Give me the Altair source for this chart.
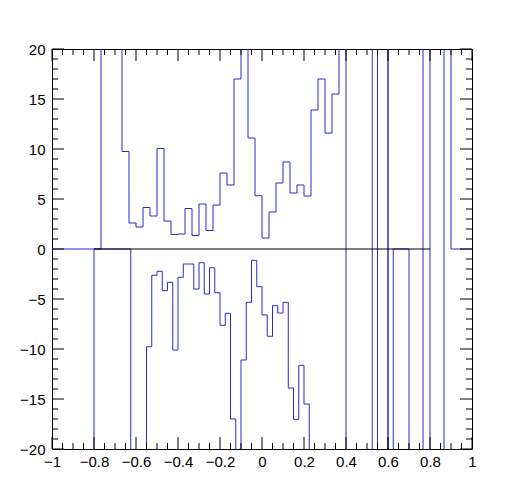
import altair as alt
import numpy as np
import pandas as pd

# Bin contents. Bins that run off the +-20 frame are marked +-30.
# Upper histogram: 60 bins on [-1, 1]
upper_values = [
    0, 0, 0, 0, 0, 0, 0,
    30, 30, 30,
    9.75, 2.6, 2.2, 4.15, 3.3, 10.05, 2.8, 1.45, 1.5, 4.05,
    1.35, 4.5, 1.85, 4.4, 7.6, 6.4, 17.0, 30, 11.1, 5.33,
    1.1, 3.7, 6.6, 8.7, 5.6, 6.4, 5.3, 13.9, 17.0, 11.6,
    15.5, 30, 30, 30, 30, 30, 30, 30,
    -30, -30, -30, -30, -30,
    30, -30, -30, 30,
    0, 0, 0,
]
upper_range = [-1.0, 1.0]

# Lower histogram: 60 bins on [-0.8, 0.7]
lower_values = [
    0, 0, 0, 0, 0, 0, 0,
    -30, -30, -30,
    -9.77, -2.63, -2.23, -4.17, -3.33, -10.1, -2.83, -1.5, -1.5, -4.0,
    -1.37, -4.5, -1.87, -4.37, -7.63, -6.43, -17.0, -30, -11.1, -5.33,
    -1.13, -3.77, -6.6, -8.73, -5.67, -6.4, -5.33, -13.9, -17.03, -11.63,
    -15.5, -30, -30, -30, -30, -30, -30, -30,
    30, 30, 30, 30, 30,
    -30, 30, 30, -30,
    0, 0, 0,
]
lower_range = [-0.8, 0.7]

zero_line = {"x": [-0.8], "x2": [0.8], "y": [0]}

x_labels = [-1, -0.8, -0.6, -0.4, -0.2, 0, 0.2, 0.4, 0.6, 0.8, 1]
y_labels = [-20, -15, -10, -5, 0, 5, 10, 15, 20]
x_minor = [round(-1 + 0.05 * i, 2) for i in range(41)]
y_minor = list(range(-20, 21))

W, H = 420, 400
BLUE = "#2a2ad0"
FONT = "Liberation Sans"


def step_rows(values, rng, name, edge_to_bottom):
    edges = np.linspace(rng[0], rng[1], len(values) + 1)
    rows = []
    if edge_to_bottom:
        rows.append((edges[0], -30))
    for i, v in enumerate(values):
        rows.append((edges[i], v))
        rows.append((edges[i + 1], v))
    if edge_to_bottom:
        rows.append((edges[-1], -30))
    return pd.DataFrame(
        {"x": [r[0] for r in rows], "y": [r[1] for r in rows],
         "order": list(range(len(rows))), "series": name}
    )


hist_df = pd.concat([
    step_rows(upper_values, upper_range, "upper", False),
    step_rows(lower_values, lower_range, "lower", True),
])

xscale = alt.Scale(domain=[-1, 1], nice=False, zero=False)
yscale = alt.Scale(domain=[-20, 20], nice=False, zero=False)

X_AX = alt.Axis(values=x_labels, format="~g", ticks=False, domain=False, grid=False,
                labelFont=FONT, labelFontSize=15, labelColor="black", labelPadding=5,
                labelFlush=False, labelOverlap=False, title=None)
Y_AX = alt.Axis(values=y_labels, format="~g", ticks=False, domain=False, grid=False,
                labelFont=FONT, labelFontSize=15, labelColor="black", labelPadding=7,
                labelOverlap=False, title=None)

hist = alt.Chart(hist_df).mark_line(clip=True, strokeWidth=1, color=BLUE).encode(
    x=alt.X("x:Q", scale=xscale, axis=X_AX),
    y=alt.Y("y:Q", scale=yscale, axis=Y_AX),
    order="order:Q",
    detail="series:N",
)

zl = alt.Chart(pd.DataFrame(zero_line)).mark_rule(color="black", strokeWidth=1).encode(
    x=alt.X("x:Q", scale=xscale, axis=X_AX),
    x2="x2:Q",
    y=alt.Y("y:Q", scale=yscale, axis=Y_AX),
)

xmaj_df = pd.DataFrame({"x": x_labels})
xmin_df = pd.DataFrame({"x": [v for v in x_minor if all(abs(v - m) > 1e-6 for m in x_labels)]})
ymaj_df = pd.DataFrame({"y": y_labels})
ymin_df = pd.DataFrame({"y": [v for v in y_minor if v % 5 != 0]})

MAJ, MIN = 12, 6


def xticks(df, length):
    bot = alt.Chart(df).mark_rule(color="black", strokeWidth=1).encode(
        x=alt.X("x:Q", scale=xscale, axis=X_AX), y=alt.value(H), y2=alt.value(H - length))
    top = alt.Chart(df).mark_rule(color="black", strokeWidth=1).encode(
        x=alt.X("x:Q", scale=xscale, axis=X_AX), y=alt.value(0), y2=alt.value(length))
    return [bot, top]


def yticks(df, length):
    left = alt.Chart(df).mark_rule(color="black", strokeWidth=1).encode(
        y=alt.Y("y:Q", scale=yscale, axis=Y_AX), x=alt.value(0), x2=alt.value(length))
    right = alt.Chart(df).mark_rule(color="black", strokeWidth=1).encode(
        y=alt.Y("y:Q", scale=yscale, axis=Y_AX), x=alt.value(W), x2=alt.value(W - length))
    return [left, right]


layers = [hist, zl] + xticks(xmaj_df, MAJ) + xticks(xmin_df, MIN) + yticks(ymaj_df, MAJ) + yticks(ymin_df, MIN)

chart = alt.layer(*layers).properties(
    width=W, height=H,
    autosize=alt.AutoSizeParams(type="none"),
    padding={"left": 44, "top": 41, "right": 45, "bottom": 42},
    background="white",
).configure_view(stroke="black", strokeWidth=1)

chart.save("out.html", embed_options={"renderer": "svg", "actions": False})
